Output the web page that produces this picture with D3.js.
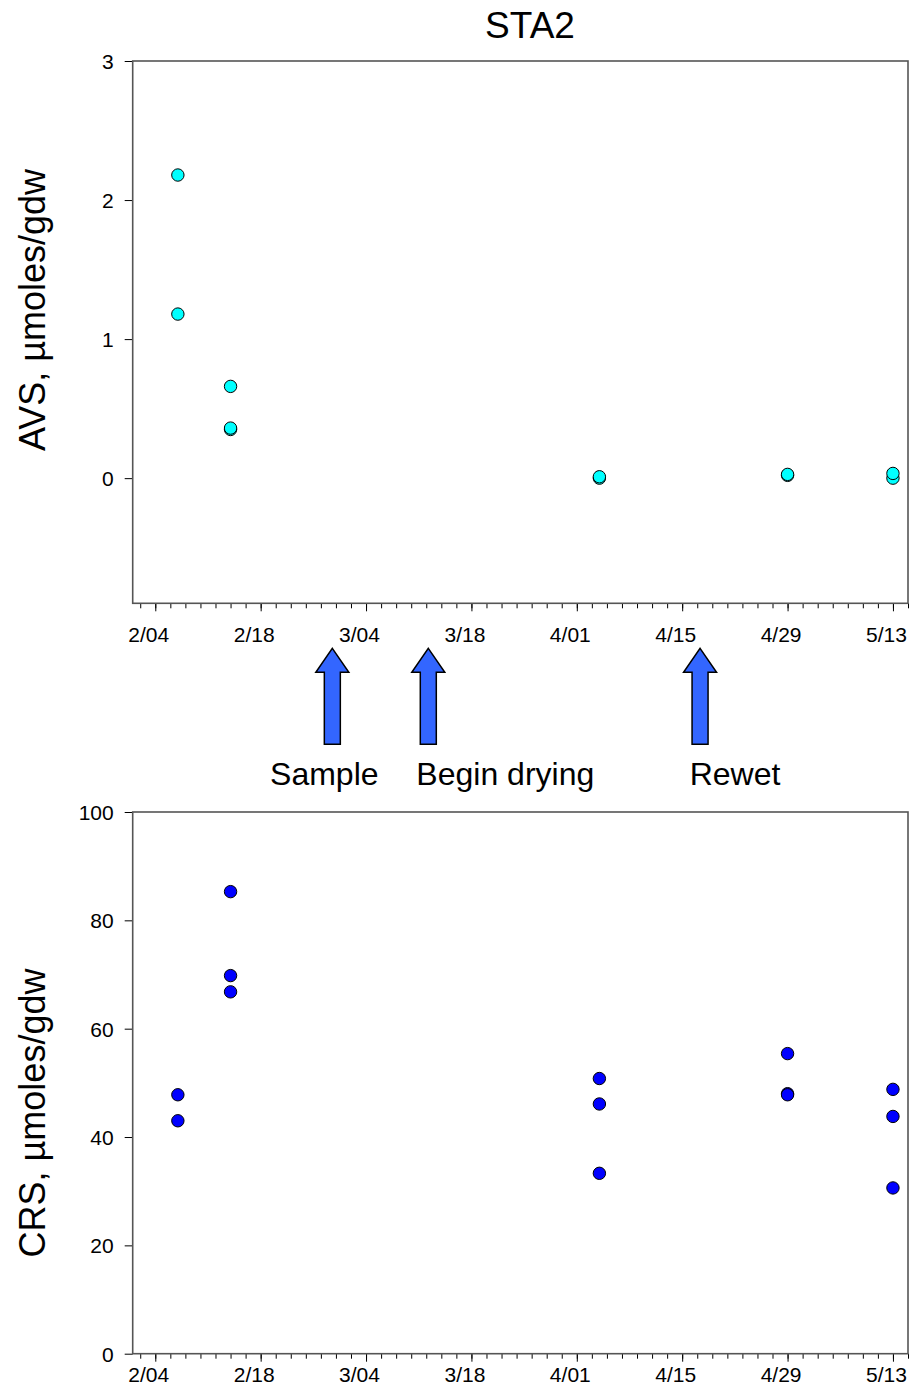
<!DOCTYPE html>
<html>
<head>
<meta charset="utf-8">
<script src="https://cdn.jsdelivr.net/npm/d3@7"></script>
<style>
  html, body { margin: 0; padding: 0; background: #fff; }
  svg { display: block; font-family: "Liberation Sans", Arial, sans-serif; }
</style>
</head>
<body>
<svg id="chart" width="910" height="1396"></svg>
<script>
// Sampling dates (non-leap year) and replicate values
const sampleDates = ["2003-02-07", "2003-02-14", "2003-04-04", "2003-04-29", "2003-05-13"];

// AVS, µmoles/gdw — replicates per sampling date
const avsValues = [
  [2.18, 1.18],
  [0.66, 0.35, 0.36],
  [0.00, 0.01],
  [0.02, 0.027],
  [0.00, 0.034]
];

// CRS, µmoles/gdw — replicates per sampling date
const crsValues = [
  [47.8, 43.0],
  [85.3, 69.8, 66.8],
  [50.8, 46.1, 33.3],
  [55.4, 48.0, 47.8],
  [48.8, 43.8, 30.6]
];

// Field events marked with arrows between the panels
const eventDates = ["2003-02-27T12:30", "2003-03-12T06:30", "2003-04-17T09:00"];
const eventLabels = ["Sample", "Begin drying", "Rewet"];

// Axis ticks
const xMajorTicks = ["2003-02-04", "2003-02-18", "2003-03-04", "2003-03-18", "2003-04-01", "2003-04-15", "2003-04-29", "2003-05-13"];
const xDomain = ["2003-02-01", "2003-05-15"];
const avsTicks = [0, 1, 2, 3];
const crsTicks = [0, 20, 40, 60, 80, 100];

const parse = s => new Date(s + (s.length === 10 ? "T00:00:00Z" : ":00Z"));
const fmt = d3.utcFormat("%-m/%d");

const svg = d3.select("#chart");
const left = 132.7, right = 908;

const x = d3.scaleUtc().domain(xDomain.map(parse)).range([left, right]);
const majorDates = xMajorTicks.map(parse);
const minorDates = d3.utcDay.range(parse("2003-02-02"), d3.utcDay.offset(parse(xDomain[1]), 1), 2);

function panel(opts) {
  const y = d3.scaleLinear().domain(opts.domain).range([opts.bottom, opts.top]);
  const g = svg.append("g");

  // minor x ticks
  g.append("g")
    .attr("transform", `translate(0,${opts.bottom})`)
    .call(d3.axisBottom(x).tickValues(minorDates).tickSize(5).tickFormat(""))
    .call(a => a.select(".domain").remove())
    .call(a => a.selectAll("line").attr("stroke", "#000").attr("stroke-width", 1));

  // major x ticks with labels
  g.append("g")
    .attr("transform", `translate(0,${opts.bottom})`)
    .call(d3.axisBottom(x).tickValues(majorDates).tickSize(8).tickPadding(opts.xPad).tickFormat(fmt))
    .call(a => a.select(".domain").remove())
    .call(a => a.selectAll("line").attr("stroke", "#000").attr("stroke-width", 1))
    .call(a => a.selectAll("text")
      .attr("dx", -7)
      .attr("fill", "#000")
      .style("font-size", "21px")
      .style("font-family", "'Liberation Sans', Arial, sans-serif"));

  // y ticks
  g.append("g")
    .attr("transform", `translate(${left},0)`)
    .call(d3.axisLeft(y).tickValues(opts.ticks).tickSize(8).tickPadding(11).tickFormat(d3.format("d")))
    .call(a => a.select(".domain").remove())
    .call(a => a.selectAll("line").attr("stroke", "#000").attr("stroke-width", 1))
    .call(a => a.selectAll("text")
      .attr("fill", "#000")
      .attr("dy", "0.35em")
      .style("font-size", "21px")
      .style("font-family", "'Liberation Sans', Arial, sans-serif"));

  // frame
  g.append("rect")
    .attr("x", left).attr("y", opts.top)
    .attr("width", right - left).attr("height", opts.bottom - opts.top)
    .attr("fill", "none").attr("stroke", "#555").attr("stroke-width", 1.6);

  // y axis title
  g.append("text")
    .attr("transform", `translate(45,${opts.labelY}) rotate(-90)`)
    .attr("text-anchor", "middle")
    .style("font-size", "36px")
    .text(opts.label);

  // points
  const pts = [];
  sampleDates.forEach((d, i) => opts.values[i].forEach(v => pts.push({ date: parse(d), v })));
  g.append("g").selectAll("circle").data(pts).join("circle")
    .attr("cx", d => x(d.date))
    .attr("cy", d => y(d.v))
    .attr("r", 6.2)
    .attr("fill", opts.color)
    .attr("stroke", "#000")
    .attr("stroke-width", 1);
}

panel({ domain: [-0.9, 3], top: 61, bottom: 603.3, ticks: avsTicks, values: avsValues,
        color: "#00FFFF", label: "AVS, \u00B5moles/gdw", labelY: 310, xPad: 16 });
panel({ domain: [0, 100], top: 812, bottom: 1353.7, ticks: crsTicks, values: crsValues,
        color: "#0000FF", label: "CRS, \u00B5moles/gdw", labelY: 1113, xPad: 5 });

// title
svg.append("text")
  .attr("x", 530).attr("y", 38.3)
  .attr("text-anchor", "middle")
  .style("font-size", "37px")
  .text("STA2");

// event arrows
const tipY = 648.3, headY = 672.3, tailY = 744.3, headHalf = 16.5, shaftHalf = 8;
const arrowPath = cx => {
  const p = d3.path();
  p.moveTo(cx, tipY);
  p.lineTo(cx + headHalf, headY);
  p.lineTo(cx + shaftHalf, headY);
  p.lineTo(cx + shaftHalf, tailY);
  p.lineTo(cx - shaftHalf, tailY);
  p.lineTo(cx - shaftHalf, headY);
  p.lineTo(cx - headHalf, headY);
  p.closePath();
  return p.toString();
};
const labelShift = [-8, 77, 35];
const events = eventDates.map((d, i) => ({ date: parse(d), label: eventLabels[i], shift: labelShift[i] }));

const ev = svg.append("g").selectAll("g").data(events).join("g");
ev.append("path")
  .attr("d", d => arrowPath(x(d.date)))
  .attr("fill", "#3366FF")
  .attr("stroke", "#000")
  .attr("stroke-width", 1.5)
  .attr("stroke-linejoin", "miter");
ev.append("text")
  .attr("x", d => x(d.date) + d.shift)
  .attr("y", 785)
  .attr("text-anchor", "middle")
  .style("font-size", "32px")
  .text(d => d.label);
</script>
</body>
</html>
